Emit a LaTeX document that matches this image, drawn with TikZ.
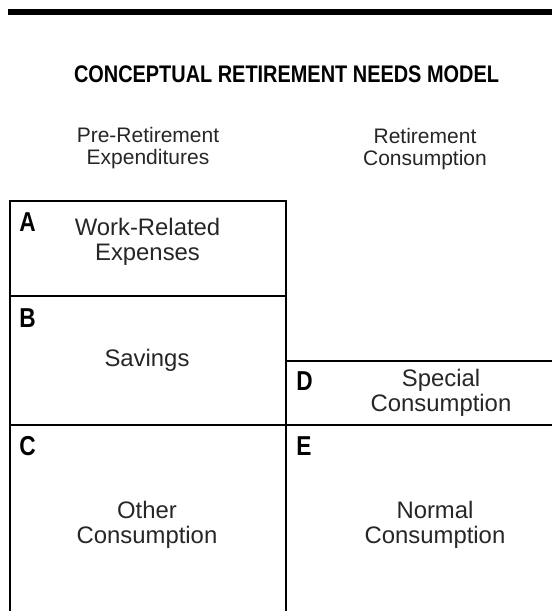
\documentclass[tikz,border=0pt]{standalone}
\usepackage{fontspec}
\setmainfont{Liberation Sans}
\newfontfamily\headfont{Liberation Sans}[FakeStretch=0.83]
\usetikzlibrary{positioning}

\begin{document}
\begin{tikzpicture}[x=0.75pt, y=-0.75pt,
    heading/.style={font=\headfont\bfseries\fontsize{18}{20}\selectfont, anchor=base},
    colhead/.style={font=\fontsize{15.75}{16.5}\selectfont, align=center, anchor=base, text=black!85},
    boxtext/.style={font=\fontsize{17.9}{18.75}\selectfont, align=center, anchor=base, text=black!85},
    letter/.style={font=\headfont\bfseries\fontsize{20.5}{22}\selectfont, anchor=base west, inner sep=0pt},
    boxline/.style={line width=1.9pt}
]
\useasboundingbox (0,0) rectangle (552,611);

% Top rule and title
\draw[line width=4.1pt] (8,12) -- (552,12);
\node[heading] (title) at (286.5,82) {CONCEPTUAL RETIREMENT NEEDS MODEL};

% Column headings (base = last line)
\node[colhead] (pre) at (148,164) {Pre-Retirement\\Expenditures};
\node[colhead] (ret) at (425,165) {Retirement\\Consumption};

% Boxes
\draw[boxline] (10,611) |- (286,201) -- (286,611);
\draw[boxline] (10,296) -- (286,296);
\draw[boxline] (286,361) -- (552,361);
\draw[boxline] (10,425) -- (552,425);

% Box letters
\node[letter] (a) at (19,231) {A};
\node[letter] (b) at (19,327) {B};
\node[letter] (c) at (19,455) {C};
\node[letter] (d) at (296,390) {D};
\node[letter] (e) at (296,455) {E};

% Box texts
\node[boxtext] (work) at (147.5,260) {Work-Related\\Expenses};
\node[boxtext] (sav) at (147,366) {Savings};
\node[boxtext] (spec) at (441,411) {Special\\Consumption};
\node[boxtext] (other) at (147,543) {Other\\Consumption};
\node[boxtext] (norm) at (435,543) {Normal\\Consumption};

\end{tikzpicture}
\end{document}
